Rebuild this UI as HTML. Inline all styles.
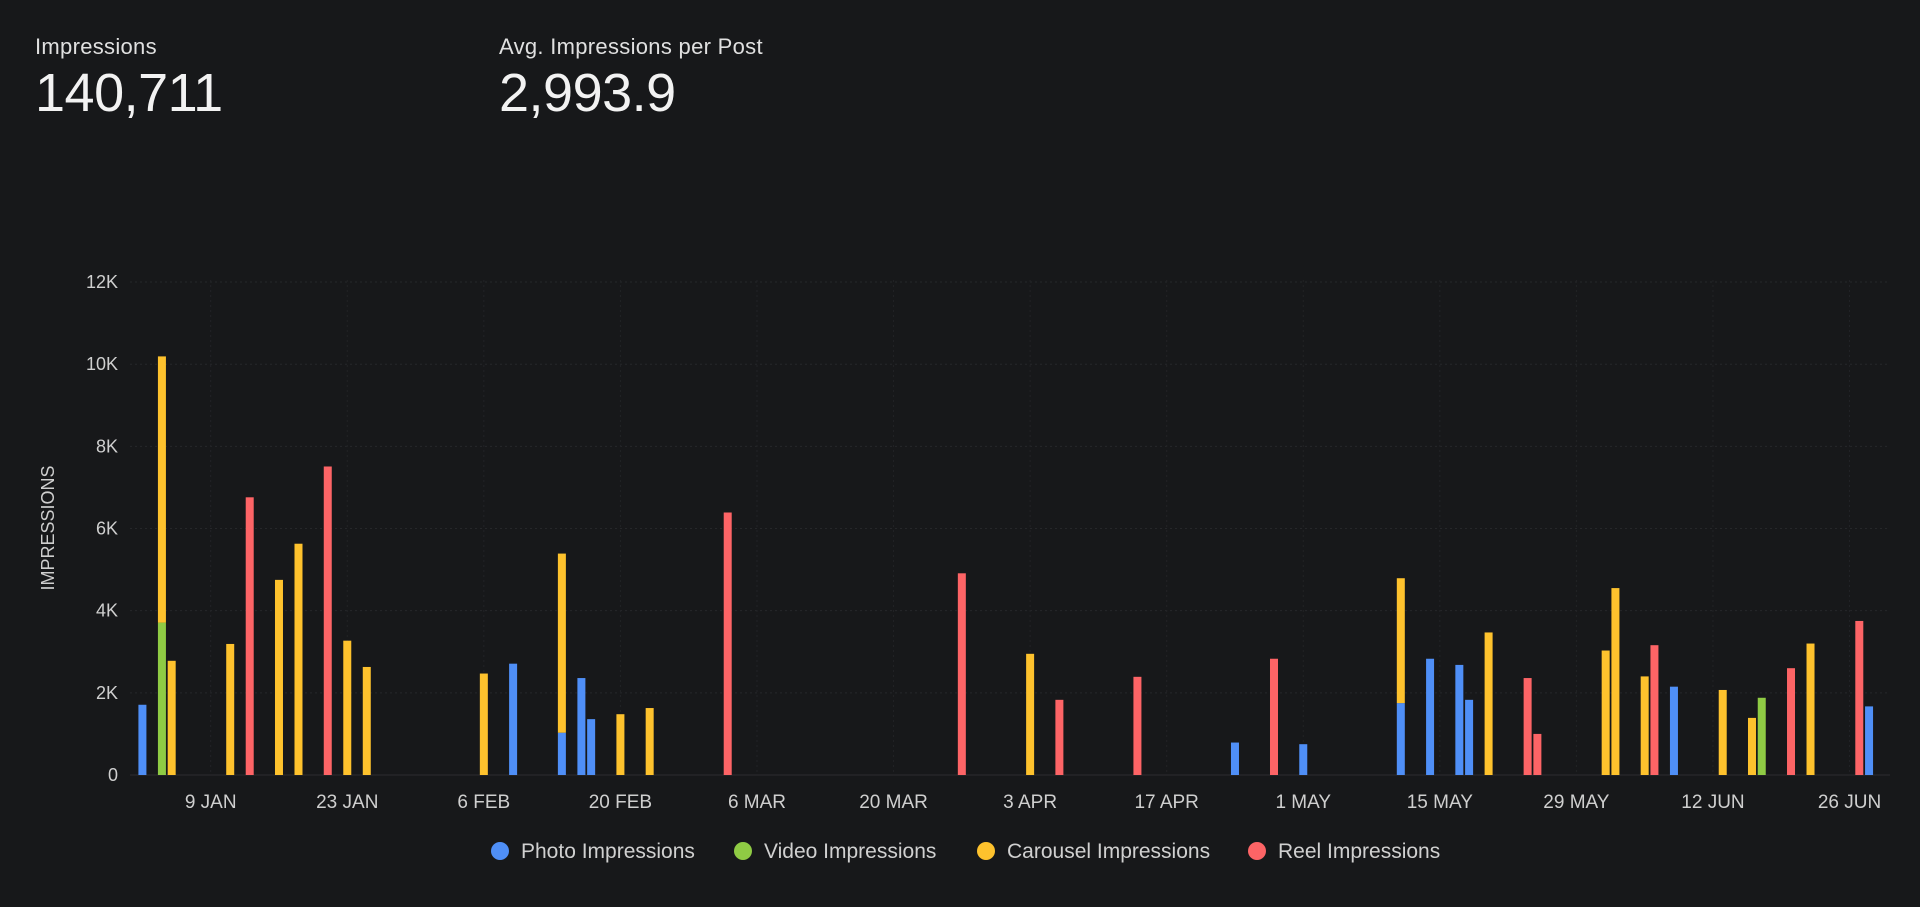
<!DOCTYPE html>
<html><head><meta charset="utf-8"><style>
html,body{margin:0;padding:0;background:#17181a;width:1920px;height:907px;overflow:hidden;font-family:"Liberation Sans",sans-serif;color:#e8e8e8}
.kpi{position:absolute;top:34px}
.kpi .lbl{font-size:22px;color:#e0e0e0;letter-spacing:0.3px}
.kpi .val{font-size:54px;color:#f2f2f2;margin-top:2px;letter-spacing:-0.5px}
svg{position:absolute;left:0;top:0}
</style></head><body>
<div class="kpi" style="left:35px"><div class="lbl">Impressions</div><div class="val">140,711</div></div>
<div class="kpi" style="left:499px"><div class="lbl">Avg. Impressions per Post</div><div class="val">2,993.9</div></div>
<svg id="chart" width="1920" height="907"></svg>
<script>
const postDates=["01-02","01-04","01-05","01-11","01-13","01-16","01-18","01-21","01-23","01-25","02-06","02-09","02-14","02-16","02-17","02-20","02-23","03-03","03-27","04-03","04-06","04-14","04-24","04-28","05-01","05-11","05-14","05-17","05-18","05-20","05-24","05-25","06-01","06-02","06-05","06-06","06-08","06-13","06-16","06-17","06-20","06-22","06-27","06-28"];
const photo=[1.71,0,0,0,0,0,0,0,0,0,0,2.71,1.03,2.36,1.36,0,0,0,0,0,0,0,0.79,0,0.75,1.75,2.83,2.68,1.83,0,0,0,0,0,0,0,2.15,0,0,0,0,0,0,1.67];
const video=[0,3.71,0,0,0,0,0,0,0,0,0,0,0,0,0,0,0,0,0,0,0,0,0,0,0,0,0,0,0,0,0,0,0,0,0,0,0,0,0,1.88,0,0,0,0];
const carousel=[0,6.48,2.78,3.19,0,4.75,5.63,0,3.27,2.63,2.47,0,4.36,0,0,1.48,1.63,0,0,2.95,0,0,0,0,0,3.04,0,0,0,3.47,0,0,3.03,4.55,2.40,0,0,2.07,1.39,0,0,3.20,0,0];
const reel=[0,0,0,0,6.76,0,0,7.51,0,0,0,0,0,0,0,0,0,6.39,4.91,0,1.83,2.39,0,2.83,0,0,0,0,0,0,2.36,1.00,0,0,0,3.16,0,0,0,0,2.60,0,3.75,0];
const yTicks=[0,2,4,6,8,10,12];
const yTickLabels=["0","2K","4K","6K","8K","10K","12K"];
const xTickDates=["01-09","01-23","02-06","02-20","03-06","03-20","04-03","04-17","05-01","05-15","05-29","06-12","06-26"];
const xTickLabels=["9 JAN","23 JAN","6 FEB","20 FEB","6 MAR","20 MAR","3 APR","17 APR","1 MAY","15 MAY","29 MAY","12 JUN","26 JUN"];
const seriesNames=["Photo Impressions","Video Impressions","Carousel Impressions","Reel Impressions"];
const colors=["#4f8ff7","#8fcb44","#fec22d","#fd6466"];

const NS="http://www.w3.org/2000/svg";
const svg=document.getElementById('chart');
const cum=[0,31,59,90,120,151,181];
function doy(s){const [m,d]=s.split('-').map(Number);return cum[m-1]+d;}
function xScale(s){return 210.7+(doy(s)-9)*9.755;}
function yScale(v){return 775-v*41.08;}
function mk(tag,attrs){const e=document.createElementNS(NS,tag);for(const k in attrs)e.setAttribute(k,attrs[k]);svg.appendChild(e);return e;}

yTicks.forEach((t,i)=>{
  const g=mk('line',{x1:130,x2:1890,y1:yScale(t),y2:yScale(t),stroke:i===0?'#2c2d30':'#26272a','stroke-width':1,'stroke-dasharray':i===0?'':'2 3'});
  
  
  const l=mk('text',{x:118,y:yScale(t)+6,'text-anchor':'end','font-size':18,fill:'#cfcfcf'});
  l.textContent=yTickLabels[i];
  
  
});
xTickDates.forEach((d,i)=>{
  const g=mk('line',{x1:xScale(d),x2:xScale(d),y1:280,y2:775,stroke:'#222326','stroke-width':1,'stroke-dasharray':'2 3'});
  
  
  const l=mk('text',{x:xScale(d),y:808,'text-anchor':'middle','font-size':19,fill:'#cfcfcf'});
  l.textContent=xTickLabels[i];
  
  
});
const yt=mk('text',{x:0,y:0,'text-anchor':'middle','font-size':18,fill:'#cfcfcf',transform:'translate(54,528) rotate(-90)'});
yt.textContent='IMPRESSIONS';



const series=[photo,video,carousel,reel];
postDates.forEach((d,i)=>{
  let base=0;
  series.forEach((arr,s)=>{
    const v=arr[i];
    if(!v)return;
    const r=mk('rect',{x:xScale(d)-4,y:yScale(base+v),width:8,height:yScale(base)-yScale(base+v),fill:colors[s]});
    
    
    base+=v;
  });
});

const legendX=[500,743,986,1257];
seriesNames.forEach((n,i)=>{
  const c=mk('circle',{cx:legendX[i],cy:851,r:9,fill:colors[i]});
  
  
  const t=mk('text',{x:legendX[i]+21,y:858,'font-size':21,fill:'#d0d0d0'});
  t.textContent=n;
  
  
});
</script>
</body></html>
